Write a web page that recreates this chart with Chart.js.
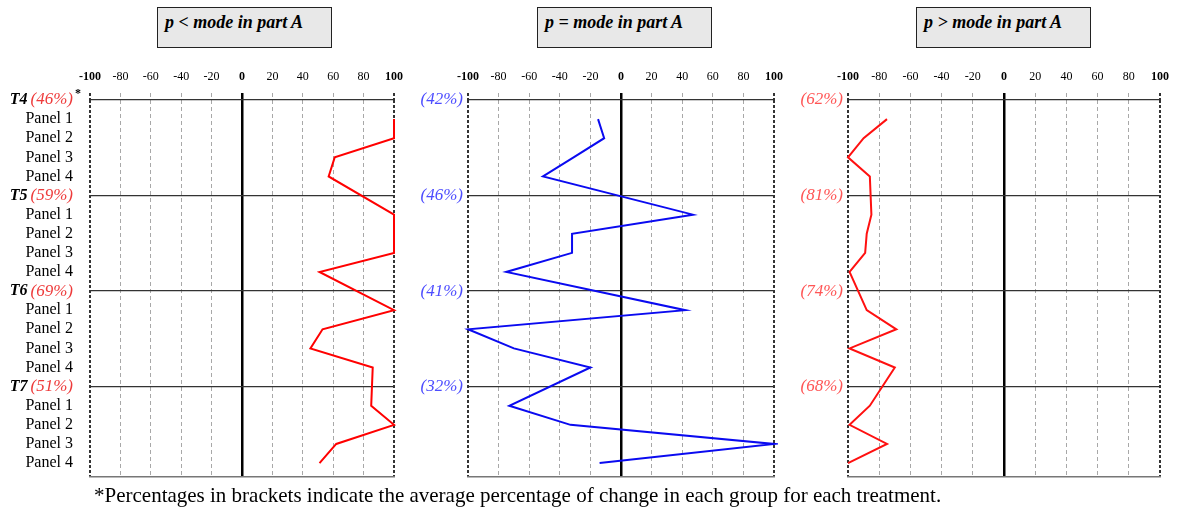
<!DOCTYPE html>
<html>
<head>
<meta charset="utf-8">
<script src="https://cdn.jsdelivr.net/npm/chart.js@4.4.1/dist/chart.umd.min.js"></script>
<style>
    body { margin: 0; background: #fff; }
    #wrap { position: relative; width: 1179px; height: 508px; overflow: hidden; font-family: "Liberation Serif", serif; }
    canvas { position: absolute; }
    .box {
        position: absolute; top: 7px; height: 41px; width: 175px; box-sizing: border-box;
        background: #e8e8e8; border: 1.5px solid #222; padding: 4px 0 0 7px;
        font: italic bold 18px "Liberation Serif", serif; line-height: 20px; color: #000;
    }
    #note { position: absolute; left: 94px; top: 484px; font: 21px "Liberation Serif", serif; line-height: 22px; color: #000; white-space: nowrap; }
</style>
</head>
<body>
<div id="wrap">
    <div class="box" style="left:157px">p &lt; mode in part A</div>
    <div class="box" style="left:537px">p = mode in part A</div>
    <div class="box" style="left:916px">p &gt; mode in part A</div>
    <canvas id="chartLow" width="412" height="432" style="left:0;top:56px"></canvas>
    <canvas id="chartEqual" width="382" height="432" style="left:410px;top:56px"></canvas>
    <canvas id="chartHigh" width="389" height="432" style="left:790px;top:56px"></canvas>
    <div id="note">*Percentages in brackets indicate the average percentage of change in each group for each treatment.</div>
</div>
<script>
const groups = ['T4', 'T5', 'T6', 'T7'];
const panels = ['Panel 1', 'Panel 2', 'Panel 3', 'Panel 4'];
const xTickValues = [-100, -80, -60, -40, -20, 0, 20, 40, 60, 80, 100];

// values per panel row, T4 P1..P4, T5 P1..P4, ...
const lowValues = [100, 100, 61, 57, 100, 100, 100, 51, 100, 53, 45, 86, 85, 100, 62, 51];
const equalValues = [-15, -11, -31, -51, 47, -32, -32, -75, 42, -100, -70, -20, -73, -33, 100, -14];
const highValues = [-75, -90, -100, -86, -85, -88, -89, -99, -88, -69, -99, -70, -86, -99, -75, -100];

const lowPct = [46, 59, 69, 51];
const equalPct = [42, 46, 41, 32];
const highPct = [62, 81, 74, 68];

const FONT = '"Liberation Serif"';
const rowLabels = groups.flatMap(g => [g, ...panels]);

document.addEventListener('DOMContentLoaded', function () {
    makePanel({
        id: 'chartLow', values: lowValues, pct: lowPct, lineColor: '#ff0000', pctColor: '#ee3b3b',
        yWidth: 90, padRight: 10, tickPadding: 17, rowNames: true
    });
    makePanel({
        id: 'chartEqual', values: equalValues, pct: equalPct, lineColor: '#0a0af0', pctColor: '#4d4dff',
        yWidth: 58, padRight: 12, tickPadding: 5, rowNames: false
    });
    makePanel({
        id: 'chartHigh', values: highValues, pct: highPct, lineColor: '#ff1010', pctColor: '#ff5555',
        yWidth: 58, padRight: 19, tickPadding: 5, rowNames: false
    });
});

function isHeader(i) {
    return i % 5 === 0;
}

// T4 (46%)* style labels, drawn next to the y axis of the first panel
function groupLabels(pct, color, padding) {
    return {
        id: 'groupLabels',
        afterDraw(chart) {
            const ctx = chart.ctx;
            const yScale = chart.scales.y;
            const right = chart.chartArea.left - padding;
            ctx.save();
            ctx.textBaseline = 'middle';
            ctx.textAlign = 'right';
            groups.forEach(function (name, g) {
                const y = yScale.getPixelForValue(g * 5);
                const text = `(${pct[g]}%)`;
                ctx.font = `italic 17px ${FONT}`;
                ctx.fillStyle = color;
                ctx.fillText(text, right, y);
                const w = ctx.measureText(text).width;
                ctx.font = `italic bold 16px ${FONT}`;
                ctx.fillStyle = '#000';
                ctx.fillText(name, right - w - 3, y);
                if (g === 0) {
                    ctx.textAlign = 'left';
                    ctx.font = `bold 12px ${FONT}`;
                    ctx.fillText('*', right + 2, y - 6);
                    ctx.textAlign = 'right';
                }
            });
            ctx.restore();
        }
    };
}

function makePanel(params) {
    const points = params.values.map((v, i) => ({ x: v, y: Math.floor(i / 4) * 5 + (i % 4) + 1 }));
    const edge = v => Math.abs(v) === 100;
    const dashFor = ctx => (ctx.tick && ctx.tick.value === 0) ? [] : (ctx.tick && edge(ctx.tick.value) ? [3, 2] : [4, 3]);
    const plugins = params.rowNames ? [groupLabels(params.pct, params.pctColor, params.tickPadding)] : [];

    return new Chart(document.getElementById(params.id), {
        type: 'line',
        data: {
            datasets: [{
                data: points,
                borderColor: params.lineColor,
                borderWidth: 2,
                pointRadius: 0,
                tension: 0,
                clip: 4
            }]
        },
        plugins: plugins,
        options: {
            responsive: false,
            animation: false,
            layout: { padding: { top: 0, right: params.padRight, bottom: 11, left: 0 } },
            plugins: { legend: { display: false }, tooltip: { enabled: false } },
            scales: {
                x: {
                    type: 'linear',
                    position: 'top',
                    min: -100,
                    max: 100,
                    afterBuildTicks: scale => { scale.ticks = xTickValues.map(v => ({ value: v })); },
                    afterFit: scale => { scale.height = 44; },
                    ticks: {
                        autoSkip: false,
                        maxRotation: 0,
                        padding: 9,
                        color: '#000',
                        callback: v => String(v),
                        font: ctx => ({
                            family: FONT, size: 12,
                            weight: ctx.tick && (edge(ctx.tick.value) || ctx.tick.value === 0) ? 'bold' : 'normal'
                        })
                    },
                    grid: {
                        color: ctx => {
                            if (!ctx.tick) return '#999';
                            if (ctx.tick.value === 0) return '#000';
                            return edge(ctx.tick.value) ? '#333' : '#a8a8a8';
                        },
                        lineWidth: ctx => {
                            if (!ctx.tick) return 1;
                            if (ctx.tick.value === 0) return 2.5;
                            return edge(ctx.tick.value) ? 2 : 1;
                        },
                        tickLength: 7,
                        tickBorderDash: dashFor
                    },
                    border: { display: false, dash: dashFor }
                },
                xb: {
                    type: 'linear',
                    position: 'bottom',
                    min: -100,
                    max: 100,
                    afterFit: scale => { scale.height = 0; },
                    ticks: { display: false },
                    grid: { display: false },
                    border: { display: true, color: '#777', width: 1.5 }
                },
                y: {
                    type: 'linear',
                    reverse: true,
                    min: 0,
                    max: 19.73,
                    afterBuildTicks: scale => { scale.ticks = rowLabels.map((_, i) => ({ value: i })); },
                    afterFit: scale => {
                        scale.width = params.yWidth;
                        scale.paddingTop = 0;
                        scale.paddingBottom = 0;
                    },
                    ticks: {
                        autoSkip: false,
                        padding: params.tickPadding,
                        callback: function (value) {
                            const i = Math.round(value);
                            if (isHeader(i)) {
                                return params.rowNames ? '' : `(${params.pct[i / 5]}%)`;
                            }
                            return params.rowNames ? rowLabels[i] : '';
                        },
                        color: params.rowNames ? '#000' : params.pctColor,
                        font: { family: FONT, size: params.rowNames ? 16 : 17, style: params.rowNames ? 'normal' : 'italic' }
                    },
                    grid: {
                        drawTicks: false,
                        color: ctx => (ctx.tick && isHeader(Math.round(ctx.tick.value))) ? '#333' : 'rgba(0,0,0,0)',
                        lineWidth: 1.3
                    },
                    border: { display: false }
                }
            }
        }
    });
}
</script>
</body>
</html>
